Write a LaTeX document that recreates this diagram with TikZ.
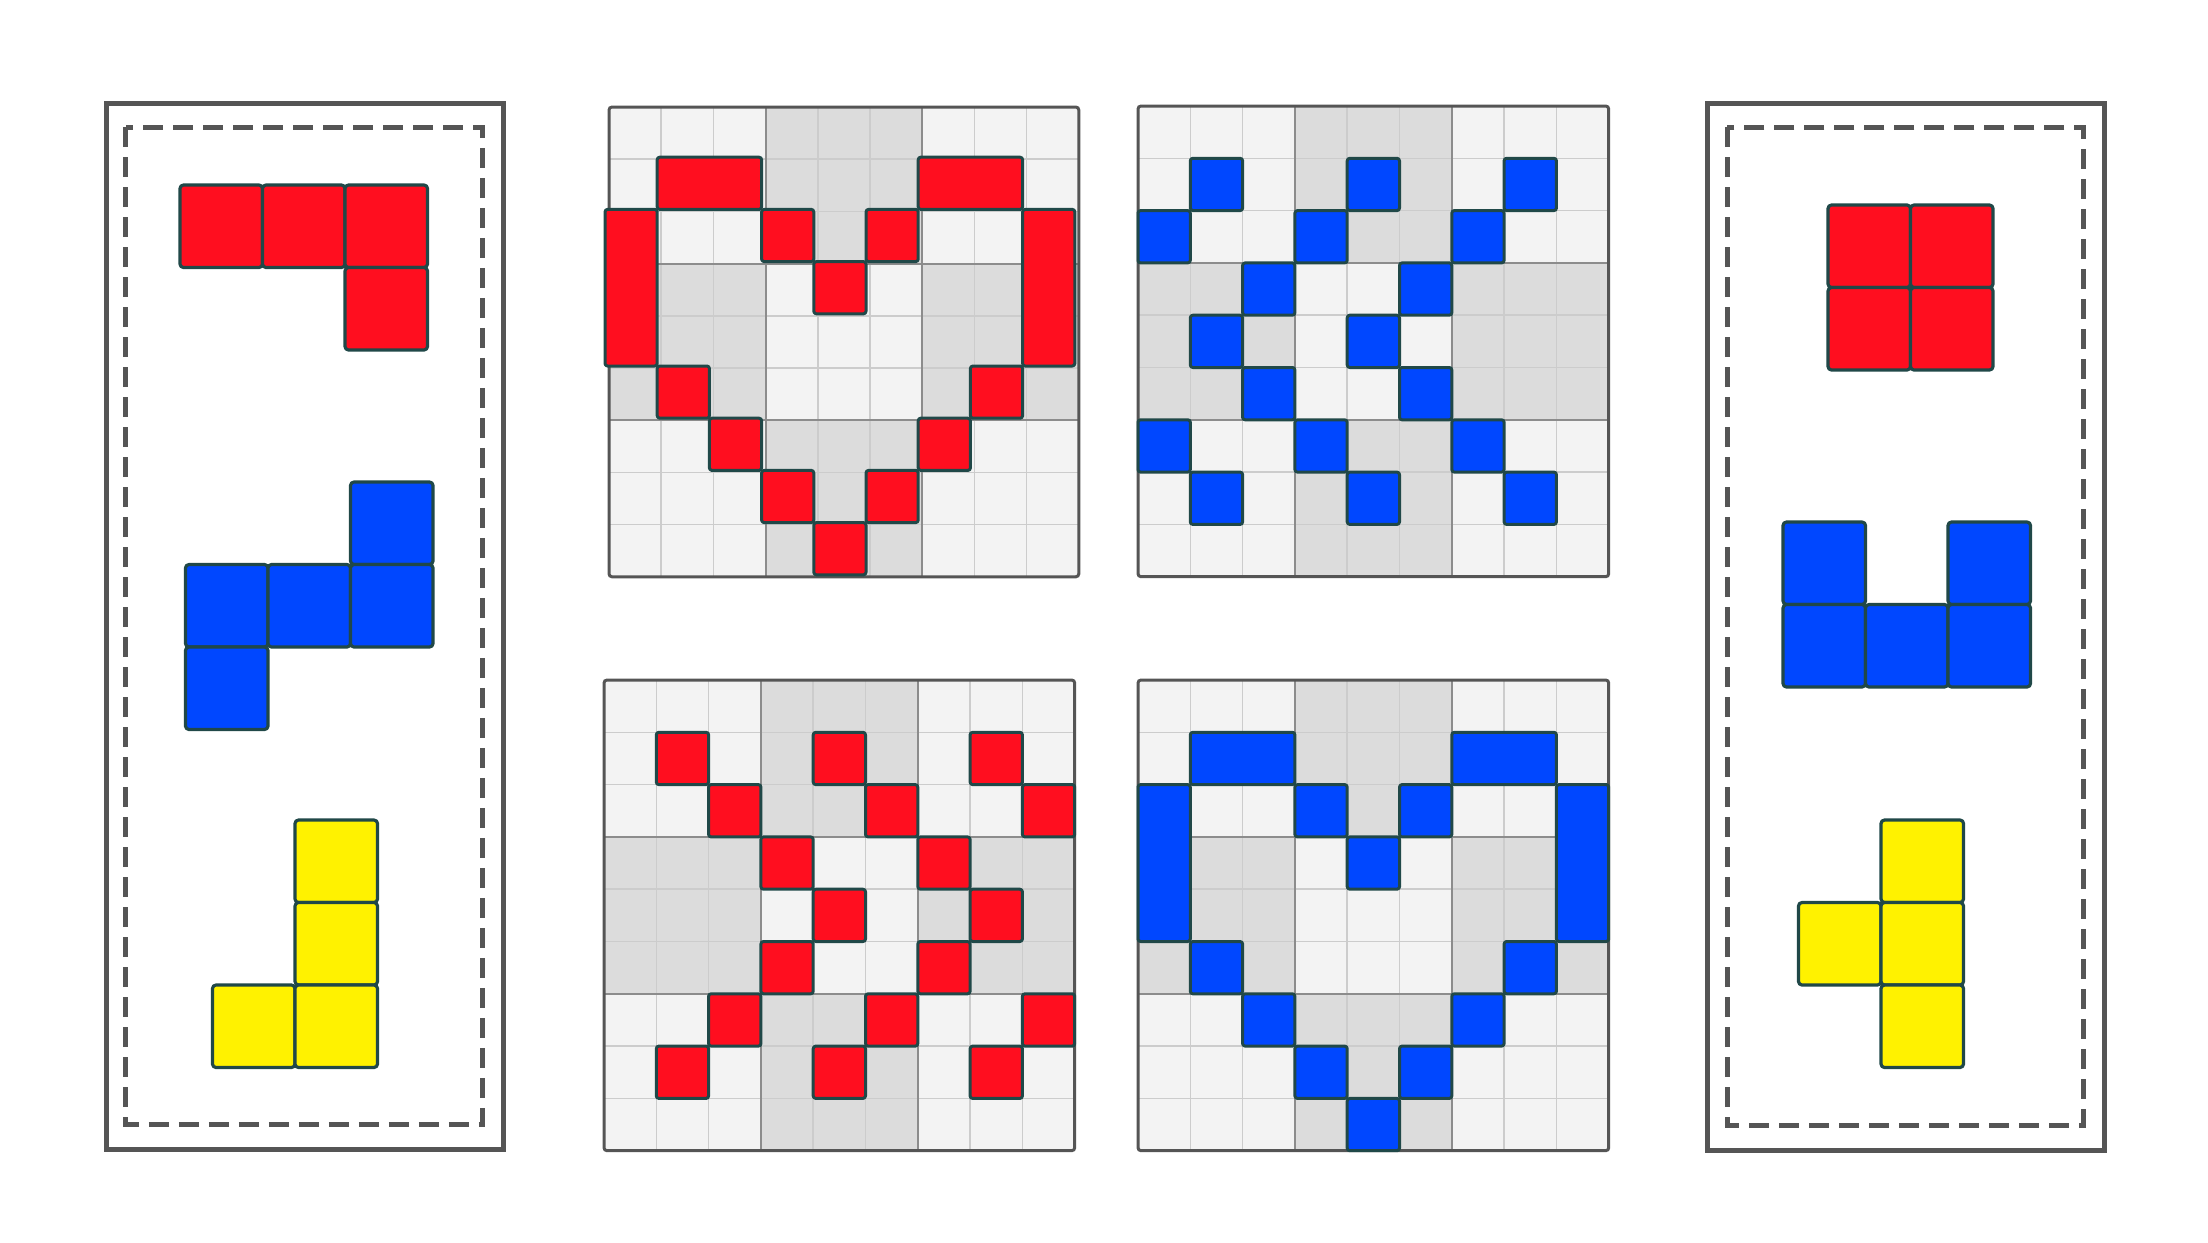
\documentclass[tikz,border=0pt]{standalone}
\usepackage{tikz}
\definecolor{redp}{RGB}{255,14,31}
\definecolor{bluep}{RGB}{0,71,255}
\definecolor{yellowp}{RGB}{255,242,0}
\definecolor{edgec}{RGB}{32,72,72}
\definecolor{cellA}{RGB}{243,243,243}
\definecolor{cellB}{RGB}{220,220,220}
\definecolor{thinc}{RGB}{204,204,204}
\definecolor{blockc}{RGB}{140,140,140}
\definecolor{framec}{RGB}{85,85,85}
\tikzset{
  gpiece/.style={draw=edgec,line width=3pt,rounded corners=2.5pt,line join=round},
  ppiece/.style={draw=edgec,line width=3.2pt,rounded corners=3.5pt,line join=round},
  thinline/.style={draw=thinc,line width=1.6pt},
  blockline/.style={draw=blockc,line width=2pt},
  gridborder/.style={draw=framec,line width=3pt,rounded corners=3pt},
  panelout/.style={draw=framec,line width=5pt},
  panelin/.style={draw=framec,line width=5pt,dash pattern=on 20pt off 10pt}
}
\newcommand{\sgrid}{%
  \foreach \i/\j/\cc in {0/0/cellA,1/0/cellB,2/0/cellA,0/1/cellB,1/1/cellA,2/1/cellB,0/2/cellA,1/2/cellB,2/2/cellA}
    {\fill[fill=\cc] (3*\i,3*\j) rectangle ++(3,3);}
  \foreach \k in {1,2,4,5,7,8}{\draw[thinline] (\k,0) -- (\k,9); \draw[thinline] (0,\k) -- (9,\k);}
  \foreach \k in {3,6}{\draw[blockline] (\k,0) -- (\k,9); \draw[blockline] (0,\k) -- (9,\k);}
  \draw[gridborder] (0,0) rectangle (9,9);
}
\newcommand{\gpc}[5]{\draw[gpiece,fill=#1] (#2,#3) rectangle ++(#4,#5);}
\newcommand{\heart}[1]{%
  \gpc{#1}{1}{1}{2}{1}\gpc{#1}{6}{1}{2}{1}
  \gpc{#1}{0}{2}{1}{3}\gpc{#1}{8}{2}{1}{3}
  \foreach \c/\r in {3/2,5/2,4/3,1/5,7/5,2/6,6/6,3/7,5/7,4/8}{\gpc{#1}{\c}{\r}{1}{1}}
}
\newcommand{\ppc}[3]{\draw[ppiece,fill=#1] (#2,#3) rectangle ++(82.5,82.5);}
\begin{document}
\begin{tikzpicture}[x=1pt,y=-1pt]
\useasboundingbox (0,0) rectangle (2208,1242);
\fill[white] (0,0) rectangle (2208,1242);

% side panels
\draw[panelout] (106.5,103.5) rectangle (503,1149);
\draw[panelin] (125.5,127.3) rectangle (482.3,1124);
\draw[panelout] (1707,103.5) rectangle (2104,1150);
\draw[panelin] (1727,127.3) rectangle (2083,1125);

% left panel pieces
\ppc{redp}{180}{185}\ppc{redp}{262.5}{185}\ppc{redp}{345}{185}\ppc{redp}{345}{267.5}
\ppc{bluep}{350.5}{482}\ppc{bluep}{185.5}{564.5}\ppc{bluep}{268}{564.5}\ppc{bluep}{350.5}{564.5}\ppc{bluep}{185.5}{647}
\ppc{yellowp}{295}{820}\ppc{yellowp}{295}{902.5}\ppc{yellowp}{212.5}{985}\ppc{yellowp}{295}{985}

% right panel pieces
\ppc{redp}{1828}{205}\ppc{redp}{1910.5}{205}\ppc{redp}{1828}{287.5}\ppc{redp}{1910.5}{287.5}
\ppc{bluep}{1783}{522}\ppc{bluep}{1948}{522}\ppc{bluep}{1783}{604.5}\ppc{bluep}{1865.5}{604.5}\ppc{bluep}{1948}{604.5}
\ppc{yellowp}{1881}{820}\ppc{yellowp}{1798.5}{902.5}\ppc{yellowp}{1881}{902.5}\ppc{yellowp}{1881}{985}

% top-left grid: red heart
\begin{scope}[shift={(609,107)},x=52.2pt,y=-52.2pt]
  \sgrid
  \begin{scope}[xshift=-4pt,yshift=2pt]\heart{redp}\end{scope}
\end{scope}

% top-right grid: blue pattern
\begin{scope}[shift={(1138,106)},x=52.3pt,y=-52.3pt]
  \sgrid
  \foreach \c/\r in {1/1,4/1,7/1,0/2,3/2,6/2,2/3,5/3,1/4,4/4,2/5,5/5,0/6,3/6,6/6,1/7,4/7,7/7}{\gpc{bluep}{\c}{\r}{1}{1}}
\end{scope}

% bottom-left grid: red pattern
\begin{scope}[shift={(604,680)},x=52.3pt,y=-52.3pt]
  \sgrid
  \foreach \c/\r in {1/1,4/1,7/1,2/2,5/2,8/2,3/3,6/3,4/4,7/4,3/5,6/5,2/6,5/6,8/6,1/7,4/7,7/7}{\gpc{redp}{\c}{\r}{1}{1}}
\end{scope}

% bottom-right grid: blue heart
\begin{scope}[shift={(1138,680)},x=52.3pt,y=-52.3pt]
  \sgrid
  \heart{bluep}
\end{scope}
\end{tikzpicture}
\end{document}
